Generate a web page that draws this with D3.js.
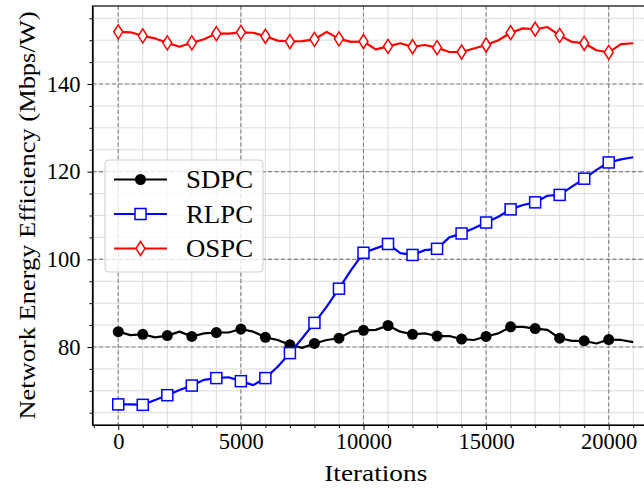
<!DOCTYPE html>
<html>
<head>
<meta charset="utf-8">
<script src="https://cdn.jsdelivr.net/npm/d3@7"></script>
<style>
  body { margin: 0; background: #fff; }
  svg { display: block; }
  svg text { font-family: "Liberation Serif", "Times New Roman", serif !important; fill: #000; }
</style>
</head>
<body>
<div id="chart"></div>
<script>
// iterations sampled every 500, markers every 1000
var iterations = [0, 500, 1000, 1500, 2000, 2500, 3000, 3500, 4000, 4500, 5000,
  5500, 6000, 6500, 7000, 7500, 8000, 8500, 9000, 9500, 10000,
  10500, 11000, 11500, 12000, 12500, 13000, 13500, 14000, 14500, 15000,
  15500, 16000, 16500, 17000, 17500, 18000, 18500, 19000, 19500, 20000,
  20500, 21000];

var sdpc = [83.5, 82.7, 82.9, 82.2, 82.6, 83.5, 82.4, 83.1, 83.3, 83.3, 84.1,
  83.5, 82.2, 81.6, 80.5, 79.8, 80.8, 81.6, 82.0, 83.5, 83.8,
  83.9, 84.9, 83.5, 82.9, 83.1, 82.5, 82.5, 81.8, 81.6, 82.4,
  83.1, 84.6, 84.6, 84.2, 83.9, 82.0, 81.4, 81.4, 80.8, 81.7,
  81.6, 81.1];

var rlpc = [66.9, 66.9, 66.8, 67.9, 69.0, 70.2, 71.2, 72.5, 72.9, 73.1, 72.2,
  71.3, 72.9, 75.5, 78.6, 82.0, 85.5, 89.2, 93.3, 97.6, 101.5,
  102.5, 103.5, 101.4, 101.0, 102.1, 102.4, 105.0, 105.9, 107.1, 108.4,
  109.7, 111.4, 112.4, 113.0, 114.5, 114.7, 116.6, 118.4, 120.4, 122.1,
  122.8, 123.3];

var ospc = [151.9, 151.8, 151.0, 150.4, 149.4, 148.5, 149.4, 150.2, 151.5, 151.5, 151.8,
  151.7, 150.9, 149.9, 149.7, 149.8, 150.2, 151.9, 150.3, 149.6, 149.7,
  147.9, 148.6, 149.3, 148.5, 148.9, 148.3, 147.3, 147.3, 148.1, 148.9,
  150.0, 151.7, 152.7, 152.5, 153.0, 151.1, 149.6, 149.3, 147.7, 147.2,
  149.1, 149.3];

var seriesNames = ["SDPC", "RLPC", "OSPC"];
var xTicks = [0, 5000, 10000, 15000, 20000];
var yTicks = [80, 100, 120, 140];
var xMinorTicks = [-1000, 0, 1000, 2000, 3000, 4000, 5000, 6000, 7000, 8000, 9000, 10000,
  11000, 12000, 13000, 14000, 15000, 16000, 17000, 18000, 19000, 20000, 21000, 22000];
var yMinorTicks = [65, 70, 75, 80, 85, 90, 95, 100, 105, 110, 115, 120, 125, 130, 135, 140, 145, 150, 155];

var width = 644, height = 489;
var plot = {left: 92.5, right: 659, top: 6, bottom: 425};
var serif = '"Liberation Serif", "Times New Roman", serif';

var svg = d3.select("#chart").append("svg")
    .attr("width", width)
    .attr("height", height);

svg.append("defs").append("clipPath").attr("id", "clip")
  .append("rect")
    .attr("x", plot.left).attr("y", plot.top)
    .attr("width", plot.right - plot.left).attr("height", plot.bottom - plot.top);

// scales
var x = d3.scaleLinear().domain([-1050, 22050]).range([plot.left, plot.right]);
var y = d3.scaleLinear().domain([62.2, 157.8]).range([plot.bottom, plot.top]);

// minor grid
var grid = svg.append("g").attr("clip-path", "url(#clip)");
grid.selectAll(".xminor").data(xMinorTicks).enter().append("line")
    .attr("x1", d => x(d)).attr("x2", d => x(d))
    .attr("y1", plot.top).attr("y2", plot.bottom)
    .attr("stroke", "#dcdcdc").attr("stroke-width", 1);
grid.selectAll(".yminor").data(yMinorTicks).enter().append("line")
    .attr("x1", plot.left).attr("x2", plot.right)
    .attr("y1", d => y(d)).attr("y2", d => y(d))
    .attr("stroke", "#dcdcdc").attr("stroke-width", 1);

// major grid
grid.selectAll(".xmajor").data(xTicks).enter().append("line")
    .attr("x1", d => x(d)).attr("x2", d => x(d))
    .attr("y1", plot.top).attr("y2", plot.bottom)
    .attr("stroke", "#808080").attr("stroke-width", 1.1).attr("stroke-dasharray", "4,2.5");
grid.selectAll(".ymajor").data(yTicks).enter().append("line")
    .attr("x1", plot.left).attr("x2", plot.right)
    .attr("y1", d => y(d)).attr("y2", d => y(d))
    .attr("stroke", "#808080").attr("stroke-width", 1.1).attr("stroke-dasharray", "4,2.5");

// series
var colors = ["#000000", "#0000ff", "#ff0000"];
var values = [sdpc, rlpc, ospc];

var line = d3.line()
    .x(d => x(d[0]))
    .y(d => y(d[1]));

var diamond = "M0,-7L4.5,0L0,7L-4.5,0Z";

function drawMarker(g, i) {
  if (i === 0) {
    g.append("circle").attr("r", 5.5).attr("fill", colors[0]);
  } else if (i === 1) {
    g.append("rect").attr("x", -5.5).attr("y", -5.5).attr("width", 11).attr("height", 11)
      .attr("fill", "#fff").attr("stroke", colors[1]).attr("stroke-width", 1.5);
  } else {
    g.append("path").attr("d", diamond)
      .attr("fill", "#fff").attr("stroke", colors[2]).attr("stroke-width", 1.5);
  }
}

var plotArea = svg.append("g").attr("clip-path", "url(#clip)");
values.forEach(function(vals, i) {
  var pts = iterations.map((it, k) => [it, vals[k]]);
  plotArea.append("path")
      .datum(pts)
      .attr("fill", "none")
      .attr("stroke", colors[i])
      .attr("stroke-width", 2.2)
      .attr("stroke-linejoin", "round")
      .attr("d", line);
  // markers every 1000 iterations up to 20000
  pts.filter(p => p[0] % 1000 === 0 && p[0] <= 20000).forEach(function(p) {
    var g = plotArea.append("g").attr("transform", "translate(" + x(p[0]) + "," + y(p[1]) + ")");
    drawMarker(g, i);
  });
});

// Add the X Axis
var xAxis = svg.append("g")
    .attr("transform", "translate(0," + plot.bottom + ")")
    .call(d3.axisBottom(x).tickValues(xTicks).tickFormat(d3.format("d"))
      .tickSize(5).tickSizeOuter(0).tickPadding(3.5));
svg.append("g")
    .attr("transform", "translate(0," + plot.bottom + ")")
    .call(d3.axisBottom(x).tickValues(xMinorTicks.filter(d => xTicks.indexOf(d) < 0)).tickSize(3).tickSizeOuter(0).tickFormat(""))
    .select(".domain").remove();
xAxis.attr("font-family", serif);
xAxis.selectAll("text").style("font-size", "22.5px").style("font-family", serif);

// Add the Y Axis
var yAxis = svg.append("g")
    .attr("transform", "translate(" + plot.left + ",0)")
    .call(d3.axisLeft(y).tickValues(yTicks).tickFormat(d3.format("d"))
      .tickSize(5).tickSizeOuter(0).tickPadding(7));
svg.append("g")
    .attr("transform", "translate(" + plot.left + ",0)")
    .call(d3.axisLeft(y).tickValues(yMinorTicks.filter(d => yTicks.indexOf(d) < 0)).tickSize(3).tickSizeOuter(0).tickFormat(""))
    .select(".domain").remove();
yAxis.attr("font-family", serif);
yAxis.selectAll("text").style("font-size", "22.5px").style("font-family", serif);

svg.selectAll(".domain").attr("stroke", "#000").attr("stroke-width", 1.2);
svg.selectAll(".tick line").attr("stroke", "#000").attr("stroke-width", 1);

// frame (top/right spines)
svg.append("rect")
    .attr("x", plot.left).attr("y", plot.top)
    .attr("width", plot.right - plot.left).attr("height", plot.bottom - plot.top)
    .attr("fill", "none").attr("stroke", "#000").attr("stroke-width", 1.2);

// axis labels
svg.append("text")
    .attr("x", (plot.left + plot.right) / 2)
    .attr("y", 481)
    .attr("text-anchor", "middle")
    .attr("textLength", 103).attr("lengthAdjust", "spacingAndGlyphs")
    .style("font-size", "23px")
    .text("Iterations");

svg.append("text")
    .attr("transform", "translate(35," + (plot.top + plot.bottom) / 2 + ") rotate(-90)")
    .attr("text-anchor", "middle")
    .attr("textLength", 408).attr("lengthAdjust", "spacingAndGlyphs")
    .style("font-size", "22.5px")
    .text("Network Energy Efficiency (Mbps/W)");

// legend
var legend = svg.append("g");
legend.append("rect")
    .attr("x", 105).attr("y", 160).attr("width", 158).attr("height", 112)
    .attr("rx", 4).attr("ry", 4)
    .attr("fill", "rgba(255,255,255,0.8)")
    .attr("stroke", "#cccccc").attr("stroke-width", 1);

seriesNames.forEach(function(name, i) {
  var ly = 179.5 + i * 34.5;
  legend.append("line")
      .attr("x1", 114).attr("x2", 167).attr("y1", ly).attr("y2", ly)
      .attr("stroke", colors[i]).attr("stroke-width", 2.2);
  drawMarker(legend.append("g").attr("transform", "translate(140.5," + ly + ")"), i);
  legend.append("text")
      .attr("x", 186).attr("y", ly + 8.5)
      .attr("textLength", 67).attr("lengthAdjust", "spacingAndGlyphs")
      .style("font-size", "24.5px")
      .text(name);
});
</script>
</body>
</html>
